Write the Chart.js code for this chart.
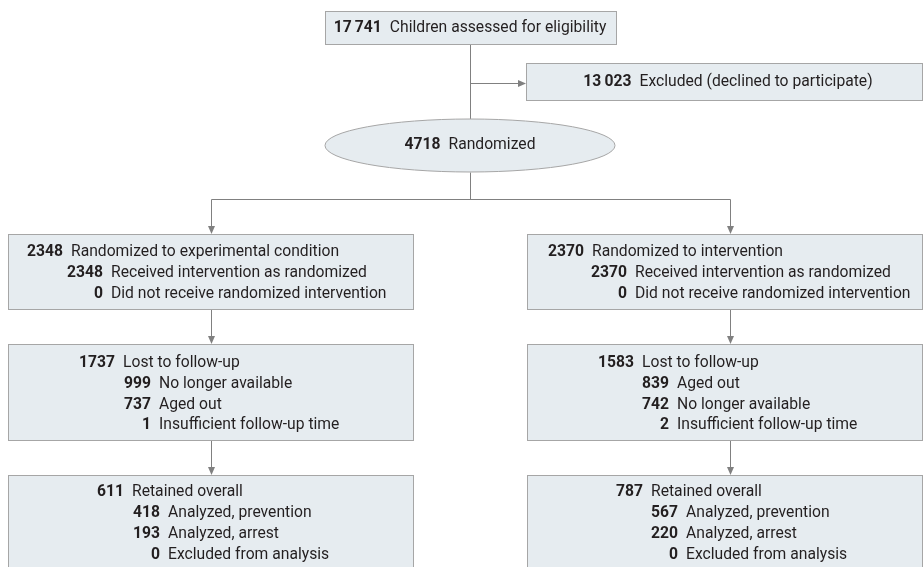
<!DOCTYPE html>
<html>
<head>
<meta charset="utf-8">
<script src="https://cdn.jsdelivr.net/npm/chart.js@4/dist/chart.umd.min.js"></script>
<style>
  body { margin: 0; background: #fff; }
  #wrap { width: 923px; height: 567px; position: relative; }
</style>
</head>
<body>
<div id="wrap"><canvas id="flowChart"></canvas></div>
<script>
// flow counts and labels
var screenLabels = ['Children assessed for eligibility', 'Excluded (declined to participate)', 'Randomized'];
var screenCounts = [17741, 13023, 4718];

var allocLabelsLeft = ['Randomized to experimental condition', 'Received intervention as randomized', 'Did not receive randomized intervention'];
var allocLeft = [2348, 2348, 0];
var allocLabelsRight = ['Randomized to intervention', 'Received intervention as randomized', 'Did not receive randomized intervention'];
var allocRight = [2370, 2370, 0];

var lostLabelsLeft = ['Lost to follow-up', 'No longer available', 'Aged out', 'Insufficient follow-up time'];
var lostLeft = [1737, 999, 737, 1];
var lostLabelsRight = ['Lost to follow-up', 'Aged out', 'No longer available', 'Insufficient follow-up time'];
var lostRight = [1583, 839, 742, 2];

var analysisLabels = ['Retained overall', 'Analyzed, prevention', 'Analyzed, arrest', 'Excluded from analysis'];
var analysisLeft = [611, 418, 193, 0];
var analysisRight = [787, 567, 220, 0];

// layout, in axis units (x 0..923, y 0..567 top-down)
var boxes = [
    { x0: 8, x1: 413, y0: 234, y1: 309, rows: [252, 273, 294], num: [63, 103, 103], labels: allocLabelsLeft, values: allocLeft },
    { x0: 527, x1: 922, y0: 234, y1: 309, rows: [252, 273, 294], num: [584, 627, 627], labels: allocLabelsRight, values: allocRight },
    { x0: 8, x1: 413, y0: 344, y1: 440, rows: [363, 384, 405, 425], num: [115, 151, 151, 151], labels: lostLabelsLeft, values: lostLeft },
    { x0: 527, x1: 922, y0: 344, y1: 440, rows: [363, 384, 405, 425], num: [634, 669, 669, 669], labels: lostLabelsRight, values: lostRight },
    { x0: 8, x1: 413, y0: 475, y1: 570, rows: [492, 513, 534, 555], num: [124, 160, 160, 160], labels: analysisLabels, values: analysisLeft },
    { x0: 527, x1: 922, y0: 475, y1: 570, rows: [492, 513, 534, 555], num: [643, 678, 678, 678], labels: analysisLabels, values: analysisRight }
];

var FILL = '#e6ecf0';
var EDGE = '#a6a6a6';
var LINE = '#808080';
var INK = '#231f20';
var FONT = 'Roboto, "Liberation Sans", sans-serif';
var SIZE = 16.5;
var SQUEEZE = 0.95; // the original face is a little narrower than Roboto

function fmt(n) {
    var s = String(n);
    if (s.length > 4) s = s.slice(0, s.length - 3) + '\u2009' + s.slice(s.length - 3);
    return s;
}

var flowPlugin = {
    id: 'flow',
    afterDraw: function (chart) {
        var ctx = chart.ctx;
        var sx = chart.scales.x, sy = chart.scales.y;
        var X = function (v) { return sx.getPixelForValue(v); };
        var Y = function (v) { return sy.getPixelForValue(v); };

        function rect(x0, y0, x1, y1) {
            ctx.save();
            ctx.fillStyle = FILL;
            ctx.strokeStyle = EDGE;
            ctx.lineWidth = 1;
            ctx.fillRect(X(x0), Y(y0), X(x1) - X(x0), Y(y1) - Y(y0));
            ctx.strokeRect(X(x0) + 0.5, Y(y0) + 0.5, X(x1) - X(x0), Y(y1) - Y(y0));
            ctx.restore();
        }
        function line(xa, ya, xb, yb) {
            ctx.save();
            ctx.strokeStyle = LINE;
            ctx.lineWidth = 1;
            ctx.beginPath();
            ctx.moveTo(Math.round(X(xa)) + 0.5, Math.round(Y(ya)) + 0.5);
            ctx.lineTo(Math.round(X(xb)) + 0.5, Math.round(Y(yb)) + 0.5);
            ctx.stroke();
            ctx.restore();
        }
        function arrowDown(x, ya, yb) {
            line(x, ya, x, yb - 6);
            var px = Math.round(X(x)) + 0.5, py = Y(yb);
            ctx.save();
            ctx.fillStyle = LINE;
            ctx.beginPath();
            ctx.moveTo(px - 3.5, py - 8);
            ctx.lineTo(px + 3.5, py - 8);
            ctx.lineTo(px, py);
            ctx.closePath();
            ctx.fill();
            ctx.restore();
        }
        function arrowRight(xa, xb, y) {
            line(xa, y, xb - 6, y);
            var px = X(xb), py = Math.round(Y(y)) + 0.5;
            ctx.save();
            ctx.fillStyle = LINE;
            ctx.beginPath();
            ctx.moveTo(px - 8, py - 3.5);
            ctx.lineTo(px - 8, py + 3.5);
            ctx.lineTo(px, py);
            ctx.closePath();
            ctx.fill();
            ctx.restore();
        }
        function squeezed(text, px, py, align, weight) {
            ctx.save();
            ctx.fillStyle = INK;
            ctx.textBaseline = 'middle';
            ctx.font = weight + ' ' + SIZE + 'px ' + FONT;
            ctx.textAlign = align;
            ctx.translate(px, py);
            ctx.scale(SQUEEZE, 1);
            ctx.fillText(text, 0, 0);
            ctx.restore();
        }
        function width(text, weight) {
            ctx.save();
            ctx.font = weight + ' ' + SIZE + 'px ' + FONT;
            var w = ctx.measureText(text).width * SQUEEZE;
            ctx.restore();
            return w;
        }
        function entry(numRight, y, value, label) {
            squeezed(fmt(value), X(numRight), Y(y), 'right', 'bold');
            squeezed(label, X(numRight) + 8, Y(y), 'left', 'normal');
        }
        function centered(cx, y, value, label) {
            var wn = width(fmt(value), 'bold');
            var wl = width(label, 'normal');
            var left = X(cx) - (wn + 8 + wl) / 2;
            entry(sx.getValueForPixel(left + wn), y, value, label);
        }

        // connectors
        line(470, 44, 470, 119);
        arrowRight(470, 526, 83);
        line(470, 172, 470, 199);
        line(211, 199, 730, 199);
        [211, 730].forEach(function (cx) {
            arrowDown(cx, 199, 234);
            arrowDown(cx, 309, 344);
            arrowDown(cx, 440, 475);
        });

        // screening box
        rect(325, 11, 616, 44);
        centered(470, 28, screenCounts[0], screenLabels[0]);

        // excluded box
        rect(526, 63, 922, 100);
        centered(728, 82, screenCounts[1], screenLabels[1]);

        // randomized ellipse
        ctx.save();
        ctx.fillStyle = FILL;
        ctx.strokeStyle = EDGE;
        ctx.beginPath();
        ctx.ellipse(X(470), Y(145.5), X(615) - X(470), Y(172) - Y(145.5), 0, 0, Math.PI * 2);
        ctx.fill();
        ctx.stroke();
        ctx.restore();
        centered(470, 145, screenCounts[2], screenLabels[2]);

        // arm boxes
        boxes.forEach(function (b) {
            rect(b.x0, b.y0, b.x1, b.y1);
            b.values.forEach(function (v, i) {
                entry(b.num[i], b.rows[i], v, b.labels[i]);
            });
        });
    }
};

new Chart(document.getElementById('flowChart').getContext('2d'), {
    type: 'scatter',
    data: { datasets: [{ data: [], pointRadius: 0 }] },
    options: {
        responsive: true,
        maintainAspectRatio: false,
        animation: false,
        layout: { padding: 0 },
        plugins: { legend: { display: false }, tooltip: { enabled: false } },
        scales: {
            x: { type: 'linear', min: 0, max: 923, display: false },
            y: { type: 'linear', min: 0, max: 567, reverse: true, display: false }
        }
    },
    plugins: [flowPlugin]
});
</script>
</body>
</html>
